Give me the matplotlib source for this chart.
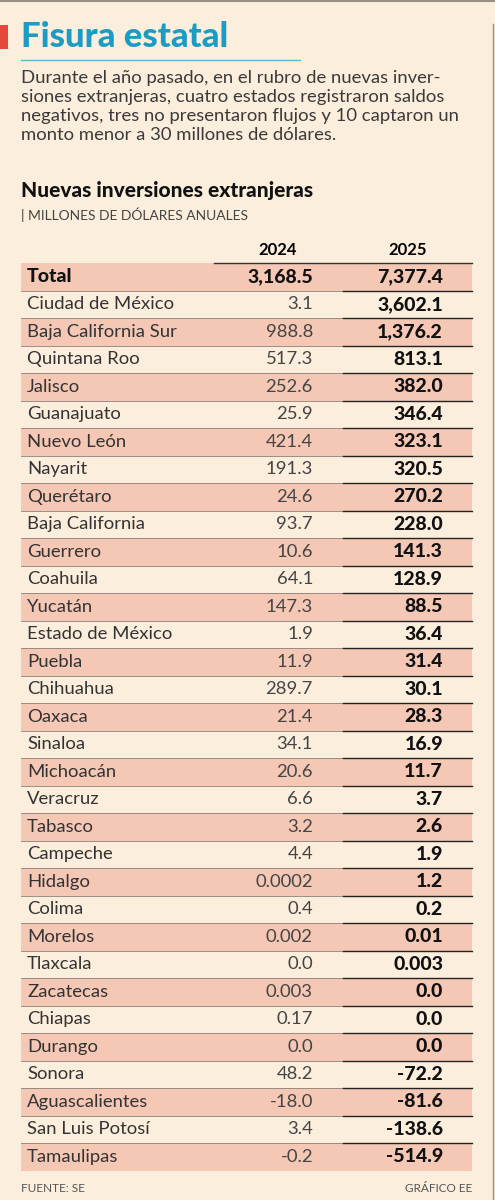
import matplotlib
matplotlib.use("Agg")
import matplotlib.pyplot as plt
from matplotlib.patches import Rectangle

states = ["Total", "Ciudad de México", "Baja California Sur", "Quintana Roo", "Jalisco",
          "Guanajuato", "Nuevo León", "Nayarit", "Querétaro", "Baja California", "Guerrero",
          "Coahuila", "Yucatán", "Estado de México", "Puebla", "Chihuahua", "Oaxaca",
          "Sinaloa", "Michoacán", "Veracruz", "Tabasco", "Campeche", "Hidalgo", "Colima",
          "Morelos", "Tlaxcala", "Zacatecas", "Chiapas", "Durango", "Sonora",
          "Aguascalientes", "San Luis Potosí", "Tamaulipas"]
v2024 = ["3,168.5", "3.1", "988.8", "517.3", "252.6", "25.9", "421.4", "191.3", "24.6",
         "93.7", "10.6", "64.1", "147.3", "1.9", "11.9", "289.7", "21.4", "34.1", "20.6",
         "6.6", "3.2", "4.4", "0.0002", "0.4", "0.002", "0.0", "0.003", "0.17", "0.0",
         "48.2", "-18.0", "3.4", "-0.2"]
v2025 = ["7,377.4", "3,602.1", "1,376.2", "813.1", "382.0", "346.4", "323.1", "320.5",
         "270.2", "228.0", "141.3", "128.9", "88.5", "36.4", "31.4", "30.1", "28.3", "16.9",
         "11.7", "3.7", "2.6", "1.9", "1.2", "0.2", "0.01", "0.003", "0.0", "0.0", "0.0",
         "-72.2", "-81.6", "-138.6", "-514.9"]
years = ["2024", "2025"]

BG = "#FCEEDC"
SHADE = "#F5C8B6"
FONT = "Lato"

fig = plt.figure(figsize=(4.95, 12), dpi=100)
fig.patch.set_facecolor(BG)
ax = fig.add_axes([0, 0, 1, 1])
ax.set_xlim(0, 495)
ax.set_ylim(1200, 0)
ax.axis("off")

ax.plot([0, 495], [1, 1], color="#9a8f84", lw=1.5)
ax.plot([493, 493], [24, 1200], color="#9a8f84", lw=1)
ax.add_patch(Rectangle((0, 25), 8, 24, color="#E5493A", lw=0))

ax.text(21, 37, "Fisura estatal", fontsize=25, fontweight="black", color="#1B9CC5",
        family=FONT, va="center")
ax.plot([21, 300], [60, 60], color="#5fb8cf", lw=1)
body = ("Durante el año pasado, en el rubro de nuevas inver-\n"
        "siones extranjeras, cuatro estados registraron saldos\n"
        "negativos, tres no presentaron flujos y 10 captaron un\n"
        "monto menor a 30 millones de dólares.")
ax.text(21, 70, body, fontsize=13.3, color="#3a3a3a", family=FONT, va="top", linespacing=1.22)
ax.text(21, 190, "Nuevas inversiones extranjeras", fontsize=15, fontweight="black",
        color="#111111", family=FONT, va="center")
ax.text(21, 215, "| MILLONES DE DÓLARES ANUALES", fontsize=10, color="#444444",
        family=FONT, va="center")

x24, x25 = 313, 443
ax.text(278, 250, years[0], fontsize=12, fontweight="bold", family=FONT, ha="center", va="center")
ax.text(408, 250, years[1], fontsize=12, fontweight="bold", family=FONT, ha="center", va="center")
ax.plot([214, 472], [263, 263], color="#333333", lw=1)

top, h = 263, 27.5
for i, (s, a, b) in enumerate(zip(states, v2024, v2025)):
    y0 = top + i * h
    yc = y0 + h / 2
    if i % 2 == 0:
        ax.add_patch(Rectangle((21, y0), 451, h, color=SHADE, lw=0))
    if i < len(states) - 1:
        ax.plot([21, 472], [y0 + h, y0 + h], color="#8a8078", lw=0.6)
        ax.plot([343, 472], [y0 + h, y0 + h], color="#222222", lw=1)
    bold_row = (i == 0)
    w = "black" if bold_row else "normal"
    ax.text(27, yc, s, fontsize=14 if bold_row else 13.3, fontweight=w,
            family=FONT, va="center", color="#111111" if bold_row else "#333333")
    ax.text(x24, yc, a, fontsize=14 if bold_row else 13.3, fontweight=w,
            family=FONT, va="center", ha="right", color="#111111" if bold_row else "#444444")
    ax.text(x25, yc, b, fontsize=14, fontweight="black", family=FONT, va="center", ha="right",
            color="#111111")

ax.text(21, 1188, "FUENTE: SE", fontsize=8.5, color="#555555", family=FONT, va="center")
ax.text(472, 1188, "GRÁFICO EE", fontsize=8.5, color="#555555", family=FONT, va="center", ha="right")

fig.savefig("out.png", dpi=100, facecolor=BG)
